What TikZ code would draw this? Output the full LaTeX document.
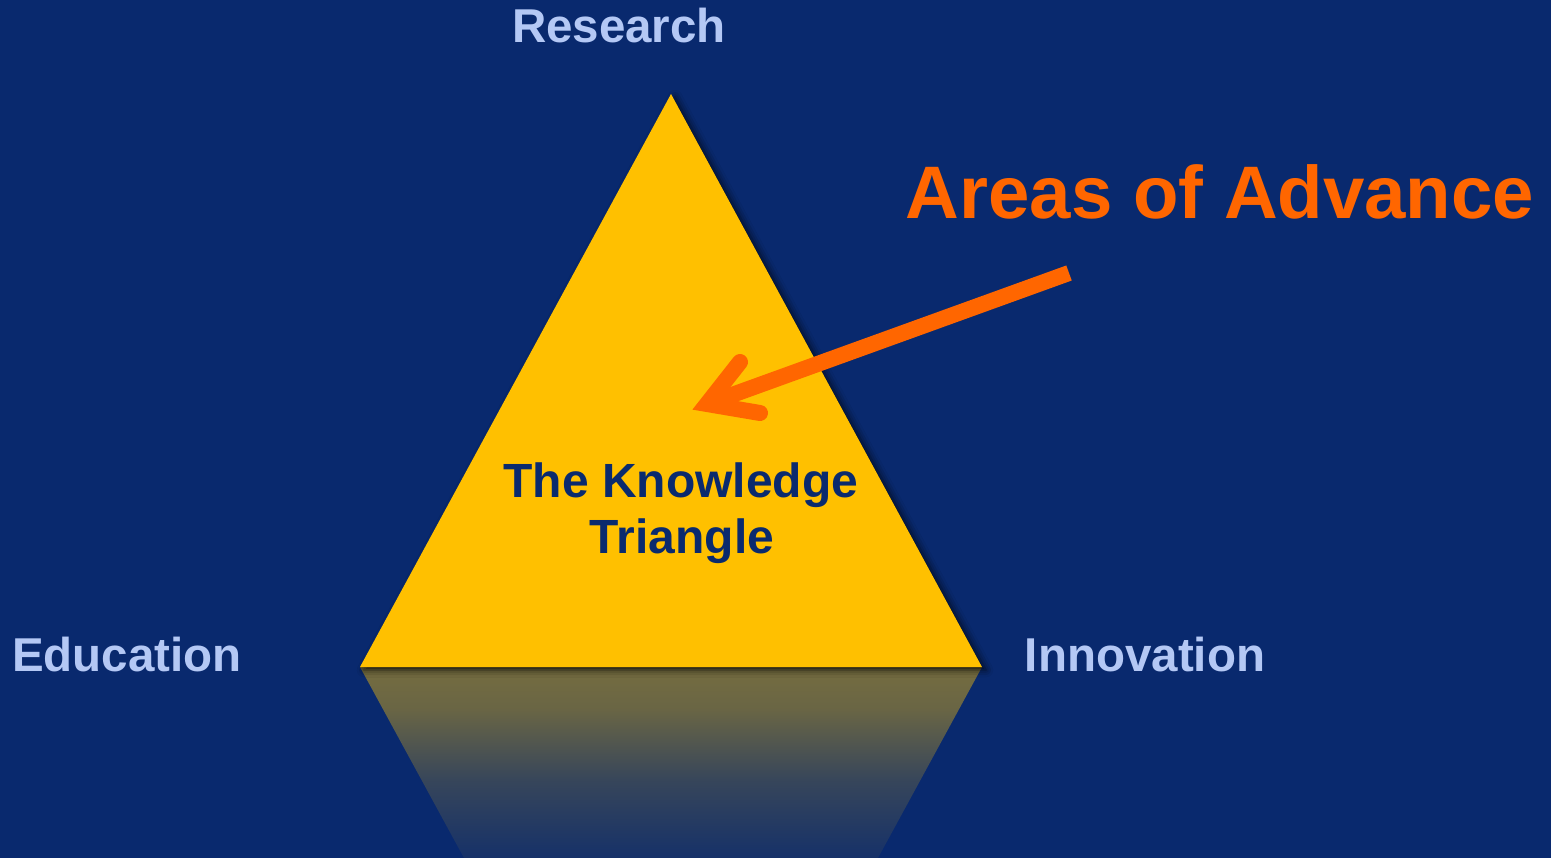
\documentclass[tikz,border=0pt]{standalone}
\usepackage{fontspec}
\setmainfont{Liberation Sans}
\usetikzlibrary{shadows.blur}

\definecolor{bg}{RGB}{9,41,110}
\definecolor{gold}{RGB}{255,192,0}
\definecolor{sky}{RGB}{180,200,245}
\definecolor{flame}{RGB}{255,102,0}
\definecolor{ink}{RGB}{10,42,110}
\definecolor{olive}{RGB}{116,108,64}

% fading mirror image below the triangle (0bp = bottom)
\pgfdeclareverticalshading{mirror}{100bp}{%
  color(0bp)=(bg); color(25bp)=(bg!88!olive); color(45bp)=(olive!42!bg);
  color(64bp)=(olive!90!bg); color(74bp)=(olive); color(75bp)=(olive!75!black); color(100bp)=(olive!75!black)}

\tikzset{
  label/.style={text=sky, font=\fontsize{47.5}{52}\selectfont\bfseries, anchor=base, inner sep=0pt},
  inner/.style={text=ink, font=\fontsize{48}{56}\selectfont\bfseries, anchor=base, inner sep=0pt},
  headline/.style={text=flame, font=\fontsize{74.4}{80}\selectfont\bfseries, anchor=base, inner sep=0pt},
  pointer/.style={draw=flame, line width=16pt},
}

\begin{document}
\begin{tikzpicture}[x=1pt, y=-1pt]
  \useasboundingbox (0,0) rectangle (1551,858);
  \fill[bg] (0,0) rectangle (1551,858);

  % corners of the triangle
  \coordinate (apex) at (671,94);
  \coordinate (bl) at (360,667);
  \coordinate (br) at (982,667);

  % reflection
  \shade[shading=mirror] (bl) -- (br) -- (878,858) -- (464,858) -- cycle;

  % the knowledge triangle
  \fill[gold, blur shadow={shadow xshift=4pt, shadow yshift=-3pt,
        shadow blur radius=7pt, shadow opacity=70}]
    (apex) -- (br) -- (bl) -- cycle;

  % labels at the corners
  \node[label] (research)   at (619,43)  {Research};
  \node[label] (education)  at (127,671) {Education};
  \node[label] (innovation) at (1145,671) {Innovation};

  % text inside the triangle
  \node[inner] (kt1) at (681,497) {The Knowledge};
  \node[inner] (kt2) at (682,553) {Triangle};

  % headline
  \node[headline] (areas) at (1220,219) {Areas of Advance};

  % pointer arrow
  \coordinate (tail) at (1069,273);
  \coordinate (vertex) at (707,404);
  \coordinate (armup) at (740,362);
  \coordinate (armdown) at (760,413);
  \draw[pointer, line cap=butt] (tail) -- (vertex);
  \draw[pointer, line cap=round, line join=miter] (armup) -- (vertex) -- (armdown);
\end{tikzpicture}
\end{document}
